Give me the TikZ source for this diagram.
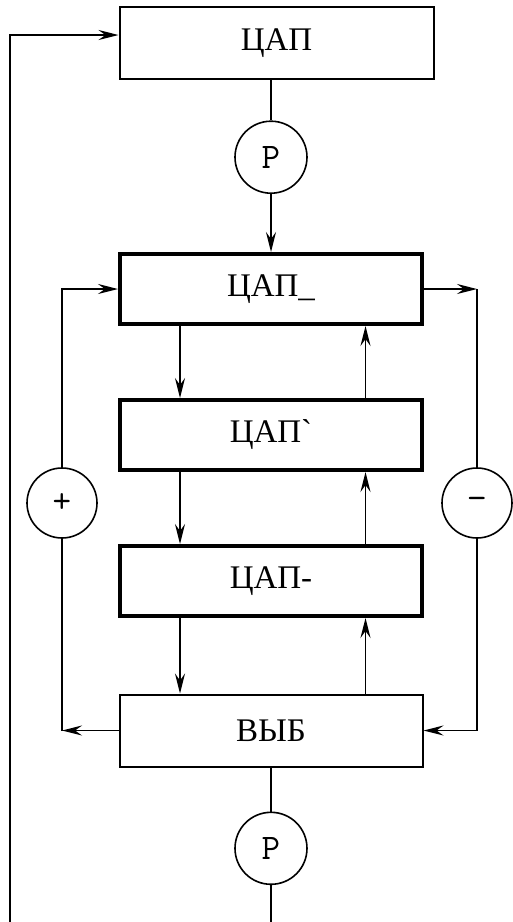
\documentclass[tikz,border=0pt]{standalone}
\usepackage{fontspec}
\setmainfont{Liberation Serif}
\usetikzlibrary{arrows.meta,positioning,calc}
\tikzset{
  box/.style={rectangle, draw=black, line width=1pt, minimum width=151.5pt, minimum height=36pt,
              inner sep=2pt, font=\fontsize{16.5}{18}\selectfont},
  dacbox/.style={box, line width=2pt, minimum width=151pt, minimum height=35pt},
  sign/.style={circle, draw=black, line width=0.8pt, minimum size=36pt, inner sep=0pt,
               font=\ttfamily\fontsize{18}{18}\selectfont},
  pm/.style={sign, minimum size=35pt},
  wire/.style={draw=black, line width=0.8pt},
  flow/.style={wire, -{Stealth[length=10pt, width=5pt, inset=3.5pt]}}
}
\begin{document}
\begin{tikzpicture}[x=0.5pt, y=-0.5pt]
 \useasboundingbox (0,0) rectangle (513,922);
 \node[dacbox] (dacA) at (271,289) {ЦАП\_};
 \node[dacbox, below=36pt of dacA] (dacB) {ЦАП\textasciigrave};
 \node[dacbox, below=36pt of dacB] (dacC) {ЦАП-};
 \node[box, below=37.75pt of dacC] (sel) {ВЫБ};
 \node[sign, above=29pt of dacA] (pa) {P};
 \node[box, above=20pt of pa, xshift=2.75pt, minimum width=157pt] (dac) {ЦАП};
 \node[sign, below=22pt of sel] (pb) {P};
 \node[pm] (plus) at (62,503) {+};
 \node[pm] (minus) at (477,503) {\textminus};
 \coordinate (fbtop) at (10,35);
 \coordinate (fbbot) at (10,922);
 \coordinate (lc) at (sel.west -| plus);
 \coordinate (rc) at (dacA.east -| minus);
 \draw[wire] (dac.south -| pa) -- (pa.north);
 \draw[flow] (pa.south) -- (pa.south |- dacA.north);
 \draw[wire] (sel.south -| pb) -- (pb.north);
 \draw[wire] (pb.south) -- (pb.south |- fbbot);
 \draw[flow] (fbbot) -- (fbtop) -- (fbtop -| dac.west);
 \foreach \a/\b in {dacA/dacB, dacB/dacC, dacC/sel} {
   \draw[flow] ([xshift=-45.5pt]\a.south) -- ([xshift=-45.5pt]\b.north);
   \draw[flow] ([xshift=47.25pt]\b.north) -- ([xshift=47.25pt]\a.south);
 }
 \draw[flow] (sel.west) -- (lc);
 \draw[wire] (lc) -- (plus.south);
 \draw[flow] (plus.north) |- (dacA.west);
 \draw[flow] (dacA.east) -- (rc);
 \draw[wire] (rc) -- (minus.north);
 \draw[flow] (minus.south) |- (sel.east);
\end{tikzpicture}
\end{document}
